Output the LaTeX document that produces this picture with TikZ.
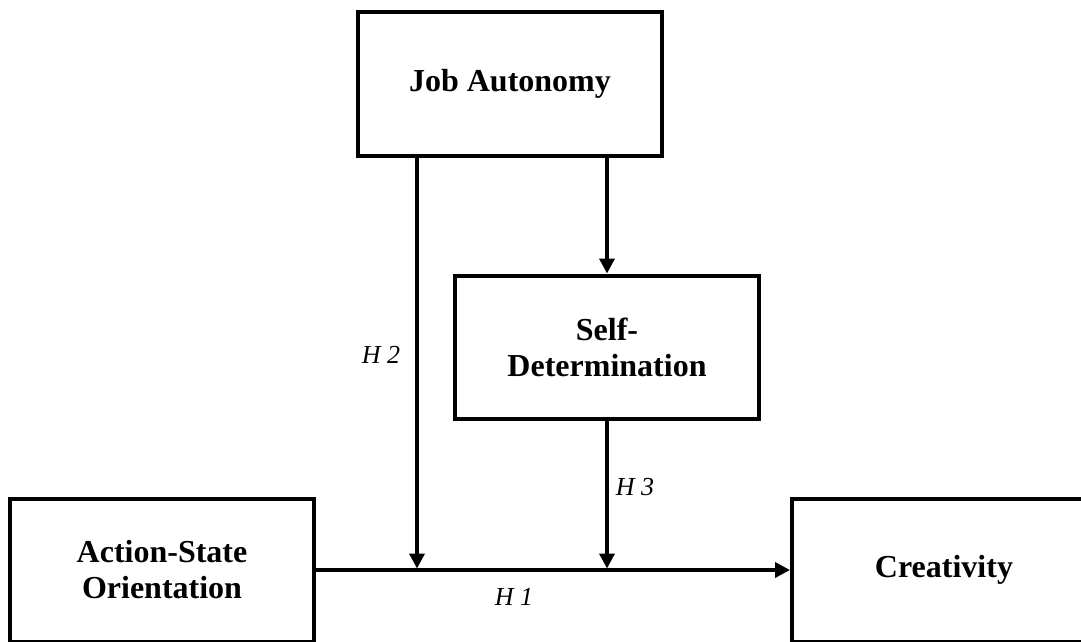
\documentclass[tikz,border=0pt]{standalone}
\usepackage{fontspec}
\setmainfont{Liberation Serif}
\usetikzlibrary{arrows.meta,positioning}

\begin{document}
\begin{tikzpicture}[x=1pt,y=-1pt,>={Triangle[length=15pt,width=15pt]}]
    \tikzset{
      box/.style={draw,line width=4pt,fill=white,inner sep=0pt,
        minimum width=304pt,minimum height=143pt,align=center,
        font=\fontsize{32}{36}\selectfont\bfseries},
      link/.style={->,line width=3.6pt},
      hyp/.style={font=\fontsize{26}{30}\selectfont\itshape}
    }
    \clip (0,0) rectangle (1081,642);
    \node[box] (act) at (162,570) {Action-State\\Orientation};
    \node[box,right=474pt of act] (crea) {Creativity};
    \node[box] (auto) at (510,84) {Job Autonomy};
    \node[box] (self) at (607,347) {Self-\\Determination};
    \coordinate (m2) at (417,570);
    \coordinate (m3) at (607,570);
    \draw[link] (act) -- (crea);
    \draw[link,shorten >=1.5pt] (auto.south -| m2) -- (m2);
    \draw[link] (self.north |- auto.south) -- (self.north);
    \draw[link,shorten >=1.5pt] (self.south) -- (m3);
    \node[hyp] (h2) at (381,355) {H 2};
    \node[hyp] (h3) at (635,487) {H 3};
    \node[hyp] (h1) at (514,597) {H 1};
  \end{tikzpicture}
\end{document}
